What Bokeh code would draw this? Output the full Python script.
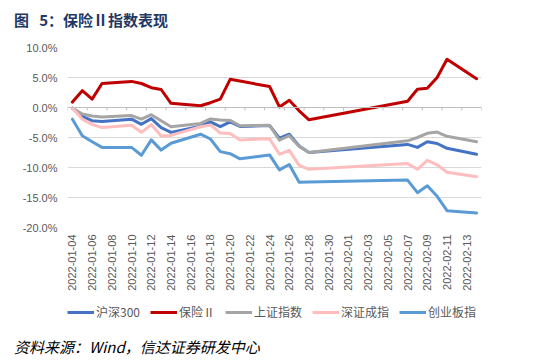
import pandas as pd
from math import pi
from bokeh.plotting import figure
from bokeh.layouts import column
from bokeh.models import (Range1d, FixedTicker, DatetimeTickFormatter, NumeralTickFormatter,
                          Legend, LegendItem, Span, Div)
from bokeh.embed import file_html
from bokeh.resources import INLINE

# ---------------- data ----------------
dates = ["2022-01-04", "2022-01-05", "2022-01-06", "2022-01-07", "2022-01-10",
         "2022-01-11", "2022-01-12", "2022-01-13", "2022-01-14", "2022-01-17",
         "2022-01-18", "2022-01-19", "2022-01-20", "2022-01-21", "2022-01-24",
         "2022-01-25", "2022-01-26", "2022-01-27", "2022-01-28", "2022-02-07",
         "2022-02-08", "2022-02-09", "2022-02-10", "2022-02-11", "2022-02-14"]

tick_labels = ["2022-01-04", "2022-01-06", "2022-01-08", "2022-01-10", "2022-01-12",
               "2022-01-14", "2022-01-16", "2022-01-18", "2022-01-20", "2022-01-22",
               "2022-01-24", "2022-01-26", "2022-01-28", "2022-01-30", "2022-02-01",
               "2022-02-03", "2022-02-05", "2022-02-07", "2022-02-09", "2022-02-11",
               "2022-02-13"]

y_ticks = [-20, -15, -10, -5, 0, 5, 10]

hs300 = [-0.1, -1.5, -2.2, -2.35, -1.95, -2.8, -1.85, -3.35, -4.15, -3.1,
         -2.4, -3.2, -2.4, -3.15, -3.0, -5.1, -4.45, -6.4, -7.5, -6.15,
         -6.65, -5.7, -6.0, -6.8, -7.8]
baoxian = [0.9, 2.8, 1.4, 4.0, 4.35, 4.0, 3.3, 3.0, 0.7, 0.3,
           0.8, 1.4, 4.7, 4.4, 3.5, 0.1, 1.2, -0.55, -2.05, 1.05,
           3.05, 3.2, 5.0, 8.05, 4.8]
shangzheng = [-0.1, -1.1, -1.4, -1.6, -1.35, -1.95, -1.2, -2.2, -3.2, -2.65,
              -1.9, -2.1, -2.15, -3.05, -2.95, -5.45, -4.7, -6.5, -7.5, -5.55,
              -5.0, -4.3, -4.1, -4.8, -5.7]
shenzheng = [-0.1, -1.95, -2.8, -3.35, -2.95, -4.15, -2.85, -4.75, -4.65, -3.2,
             -2.9, -4.25, -4.35, -5.4, -5.2, -7.8, -7.15, -9.65, -10.3, -9.35,
             -10.3, -8.8, -9.55, -10.8, -11.55]
chuangye = [-1.95, -4.7, -5.7, -6.65, -6.65, -7.95, -5.4, -7.1, -5.95, -4.45,
            -5.25, -7.35, -7.7, -8.55, -7.9, -10.4, -9.5, -12.45, -12.4, -12.1,
            -14.2, -13.05, -14.8, -17.2, -17.6]

series = [("沪深300", hs300, "#4472C4"),
          ("保险Ⅱ", baoxian, "#C00000"),
          ("上证指数", shangzheng, "#A5A5A5"),
          ("深证成指", shenzheng, "#FFBDBD"),
          ("创业板指", chuangye, "#5B9BD5")]

title_text = "图\u00a0\u00a0\u00a05：保险Ⅱ指数表现"
source_text = "资料来源：Wind，信达证券研发中心"

# ---------------- title ----------------
title_div = Div(text=title_text, width=521, height=25, margin=(7, 0, 0, 14),
                styles={"font-family": "Noto Sans CJK SC", "font-weight": "bold",
                        "font-size": "15px", "color": "#1F3864", "line-height": "25px",
                        "white-space": "nowrap"})

# ---------------- main figure ----------------
x = pd.to_datetime(dates)
x_start = pd.Timestamp(dates[0]) - pd.Timedelta(hours=12)
x_end = pd.Timestamp(dates[-1]) + pd.Timedelta(hours=12)

p = figure(frame_width=414, frame_height=180, x_axis_type="datetime",
           output_backend="svg", toolbar_location=None,
           x_range=Range1d(x_start, x_end),
           y_range=Range1d(-0.2, 0.1),
           min_border_left=67, min_border_right=40,
           min_border_top=15, min_border_bottom=0)
p.outline_line_color = None
p.background_fill_color = "white"
p.border_fill_color = "white"

# y axis
p.yaxis.ticker = FixedTicker(ticks=[v / 100 for v in y_ticks])
p.yaxis.formatter = NumeralTickFormatter(format="0.0%")
p.yaxis.axis_line_color = None
p.yaxis.major_tick_line_color = None
p.yaxis.minor_tick_line_color = None
p.yaxis.major_tick_out = 0
p.yaxis.major_tick_in = 0
p.yaxis.major_label_standoff = 10
p.yaxis.major_label_text_font = "Liberation Sans"
p.yaxis.major_label_text_font_size = "11px"
p.yaxis.major_label_text_color = "#595959"

# x axis
tick_ms = [pd.Timestamp(t).value // 10**6 for t in tick_labels]
p.xaxis.ticker = FixedTicker(ticks=tick_ms)
fmt = "%Y-%m-%d"
p.xaxis.formatter = DatetimeTickFormatter(days=fmt, months=fmt, hours=fmt, years=fmt)
p.xaxis.major_label_orientation = pi / 2
p.xaxis.axis_line_color = None
p.xaxis.major_tick_line_color = None
p.xaxis.minor_tick_line_color = None
p.xaxis.major_tick_out = 0
p.xaxis.major_tick_in = 0
p.xaxis.major_label_standoff = 7
p.xaxis.major_label_text_font = "Liberation Sans"
p.xaxis.major_label_text_font_size = "11px"
p.xaxis.major_label_text_color = "#595959"

# grid
p.xgrid.grid_line_color = None
p.ygrid.ticker = FixedTicker(ticks=[v / 100 for v in y_ticks])
p.ygrid.grid_line_color = "#D9D9D9"
p.ygrid.grid_line_width = 1

# zero axis line with tick marks between categories
p.add_layout(Span(location=0, dimension="width", line_color="#BFBFBF", line_width=1))
mark_x = pd.date_range(x_start, x_end, freq="2D")
p.segment(x0=mark_x, y0=[0] * len(mark_x), x1=mark_x, y1=[-0.005] * len(mark_x),
          line_color="#BFBFBF", line_width=1)

for name, vals, color in series:
    p.line(x, [v / 100 for v in vals], line_color=color, line_width=3,
           line_join="round", line_cap="round")

# ---------------- legend strip (series kept out of view, legend only) ----------------
p2 = figure(width=521, height=44, output_backend="svg", toolbar_location=None,
            x_range=Range1d(x_start, x_end), y_range=Range1d(1, 2),
            x_axis_location=None, y_axis_location=None, min_border=0)
p2.outline_line_color = None
p2.xgrid.grid_line_color = None
p2.ygrid.grid_line_color = None

items = []
for name, vals, color in series:
    r = p2.line(x, [v / 100 for v in vals], line_color=color, line_width=3)
    items.append(LegendItem(label=name, renderers=[r]))

legend = Legend(items=items, orientation="horizontal", location=(0, 17),
                glyph_width=27, glyph_height=16, label_height=16,
                label_standoff=2, spacing=10, padding=0, margin=0,
                border_line_color=None, background_fill_alpha=0,
                label_text_font="Noto Sans CJK SC", label_text_font_size="12px",
                label_text_color="#595959")
p2.add_layout(legend)

# ---------------- source note ----------------
src = Div(text=source_text, width=521, height=22, margin=(0, 0, 0, 14),
          styles={"font-family": "Noto Sans CJK SC", "font-style": "italic",
                  "font-size": "15px", "color": "#000000", "line-height": "20px",
                  "white-space": "nowrap"})

layout = column(title_div, p, p2, src, spacing=0)
open("out.html", "w").write(file_html(layout, INLINE))
